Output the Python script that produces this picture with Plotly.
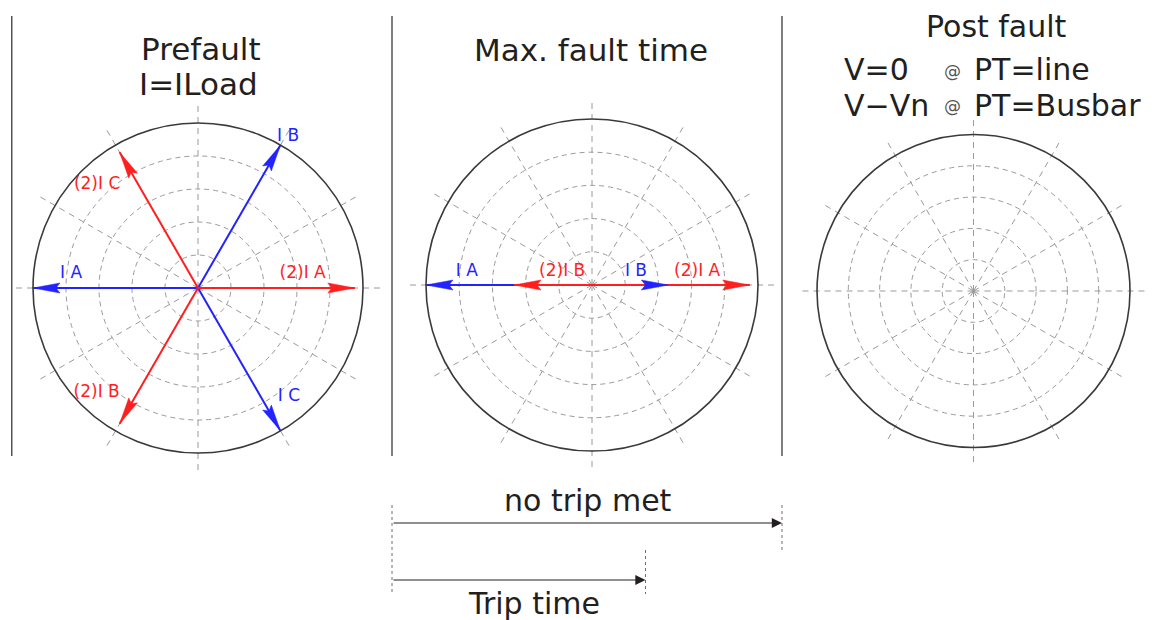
import numpy as np
import plotly.graph_objects as go

W, H = 1167, 620
OFF = 8  # page body margin of the html page

# ------------------------------------------------------------------ data
title_prefault = ["Prefault", "I=ILoad"]
title_fault = "Max. fault time"
title_post = "Post fault"
post_left = ["V=0", "V\u2212Vn"]
post_at = ["@", "@"]
post_right = ["PT=line", "PT=Busbar"]

# prefault phasors (magnitude in ring units, angle in degrees)
pre_labels = ["I A", "I B", "I C", "(2)I A", "(2)I B", "(2)I C"]
pre_mag = [5.0, 5.0, 5.0, 4.75, 4.75, 4.75]
pre_ang = [180, 60, 300, 0, 240, 120]
pre_kind = ["I", "I", "I", "I2", "I2", "I2"]

# max fault time phasors
flt_labels = ["I A", "I B", "(2)I A", "(2)I B"]
flt_mag = [5.0, 2.3, 4.75, 2.35]
flt_ang = [180, 0, 0, 180]
flt_kind = ["I", "I", "I2", "I2"]

ring_values = [1, 2, 3, 4]
outer_ring = 5
spoke_step = 30

# timeline (fault start = 0, no-trip end = 1)
period_bounds = [-0.975, 0.0, 1.0]
trip_time = 0.65
no_trip_end = 1.0
timeline_texts = ["no trip met", "Trip time"]

# ------------------------------------------------------------------ style
FONT = "DejaVu Sans"
TXT = "#231f20"
COL = {"I": "#2323ff", "I2": "#ff1f1f"}
GRID = "#9a9a9a"
panels_px = [(198, 288, 165), (592, 285, 166), (973.5, 291, 156.5)]  # cx, cy, outer radius px
spoke_ext = 5.6
arrow_len_px, arrow_half_px, arrow_notch_px = 27, 5, 4
# label placement (r, theta) per phasor
pre_label_pos = [(3.87, 173.7), (5.33, 59.2), (4.3, 309.9), (3.2, 7.6), (4.42, 226), (4.37, 134.4)]
flt_label_pos = [(3.79, 174), (1.38, 16.5), (3.19, 7), (0.98, 156.6)]

fig = go.Figure()
layout = {}


def fx(px):
    return (px - OFF) / W


def fy(px):
    return 1 - (px - OFF) / H


def domain(cx, cy, R):
    return dict(x=[fx(cx - R), fx(cx + R)], y=[fy(cy + R), fy(cy - R)])


def arrow_poly(mag, ang, ppu):
    t = np.radians(ang)
    u = np.array([np.cos(t), np.sin(t)])
    n = np.array([-np.sin(t), np.cos(t)])
    tip = mag * u
    L, w, d = arrow_len_px / ppu, arrow_half_px / ppu, arrow_notch_px / ppu
    pts = [tip, tip - L * u + w * n, tip - (L - d) * u, tip - L * u - w * n, tip]
    r = [float(np.hypot(*p)) for p in pts]
    th = [float(np.degrees(np.arctan2(p[1], p[0]))) for p in pts]
    return r, th


for i, (cx, cy, R) in enumerate(panels_px):
    low = "polar" if i == 0 else f"polar{2 * i + 1}"
    up = f"polar{2 * i + 2}"
    layout[low] = dict(
        domain=domain(cx, cy, R * spoke_ext / outer_ring),
        bgcolor="rgba(0,0,0,0)",
        radialaxis=dict(range=[0, spoke_ext], showgrid=False, showline=False,
                        showticklabels=False, ticks=""),
        angularaxis=dict(showgrid=True, gridcolor=GRID, gridwidth=1.2, griddash="6px,5px",
                         tickmode="linear", tick0=0, dtick=spoke_step, showline=False,
                         showticklabels=False, ticks=""),
    )
    layout[up] = dict(
        domain=domain(cx, cy, R),
        bgcolor="rgba(0,0,0,0)",
        radialaxis=dict(range=[0, outer_ring], showgrid=True, tickmode="array",
                        tickvals=ring_values, gridcolor=GRID, gridwidth=1.2, griddash="5px,4px",
                        showline=False, showticklabels=False, ticks=""),
        angularaxis=dict(showgrid=False, showline=True, linecolor="#3a3a3a", linewidth=1.6,
                         showticklabels=False, ticks=""),
    )
    fig.add_trace(go.Scatterpolar(r=[0], theta=[0], mode="markers", marker=dict(size=0, opacity=0),
                                  subplot=low, showlegend=False, hoverinfo="skip"))

phasor_sets = [
    ("polar", "polar2", pre_labels, pre_mag, pre_ang, pre_kind, pre_label_pos, panels_px[0]),
    ("polar3", "polar4", flt_labels, flt_mag, flt_ang, flt_kind, flt_label_pos, panels_px[1]),
]
for low, sub, labels, mags, angs, kinds, lpos, (cx, cy, R) in phasor_sets:
    ppu = R / outer_ring
    for kind in ["I", "I2"]:
        for lab, m, a, k in zip(labels, mags, angs, kinds):
            if k != kind:
                continue
            fig.add_trace(go.Scatterpolar(r=[0, m], theta=[a, a], mode="lines",
                                          line=dict(color=COL[k], width=2), subplot=sub,
                                          showlegend=False, hoverinfo="skip", cliponaxis=False))
    for kind in ["I2", "I"]:
        for lab, m, a, k in zip(labels, mags, angs, kinds):
            if k != kind:
                continue
            rr, tt = arrow_poly(m, a, ppu)
            fig.add_trace(go.Scatterpolar(r=rr, theta=tt, mode="lines", fill="toself",
                                          fillcolor=COL[k], line=dict(color=COL[k], width=0.5),
                                          subplot=sub, showlegend=False, hoverinfo="skip",
                                          cliponaxis=False))
    for lab, k, (lr, lt) in zip(labels, kinds, lpos):
        fig.add_trace(go.Scatterpolar(r=[lr], theta=[lt], mode="text", text=[lab],
                                      textfont=dict(family=FONT, size=17, color=COL[k]),
                                      subplot=(low if lr > outer_ring else sub),
                                      showlegend=False, hoverinfo="skip", cliponaxis=False))

fig.add_trace(go.Scatterpolar(r=[0], theta=[0], mode="markers", marker=dict(size=0, opacity=0),
                              subplot="polar6", showlegend=False, hoverinfo="skip"))

# ------------------------------------------------------------------ timeline axes
t_px0, t_px1 = 392 - OFF, 782 - OFF
scale = t_px1 - t_px0
fig.add_trace(go.Scatter(x=[0], y=[0], mode="markers", marker=dict(size=0, opacity=0),
                         showlegend=False, hoverinfo="skip"))
layout["xaxis"] = dict(range=[-t_px0 / scale, (W - t_px0) / scale], domain=[0, 1], visible=False,
                       fixedrange=True)
layout["yaxis"] = dict(range=[0, 1], domain=[0, 1], visible=False, fixedrange=True)

shapes = []
for b in period_bounds:
    shapes.append(dict(type="line", xref="x", yref="y", x0=b, x1=b, y0=fy(456), y1=fy(16),
                       line=dict(color="#555555", width=1.5), layer="below"))
dot = dict(color="#6e6e6e", width=1, dash="dot")
shapes.append(dict(type="line", xref="x", yref="y", x0=0, x1=0, y0=fy(505), y1=fy(595), line=dot))
shapes.append(dict(type="line", xref="x", yref="y", x0=no_trip_end, x1=no_trip_end, y0=fy(505),
                   y1=fy(550), line=dot))
shapes.append(dict(type="line", xref="x", yref="y", x0=trip_time, x1=trip_time, y0=fy(550),
                   y1=fy(594), line=dot))

ann = []
for end, ypx in [(no_trip_end, 523), (trip_time, 580)]:
    ann.append(dict(x=end, y=fy(ypx), ax=0, ay=fy(ypx), xref="x", yref="y", axref="x", ayref="y",
                    text="", showarrow=True, arrowhead=2, arrowsize=1.7, arrowwidth=1.2,
                    arrowcolor=TXT, standoff=0))


def txt(s, xpx, ypx, size=30, anchor="center", color=TXT):
    return dict(text=s, x=fx(xpx), y=fy(ypx), xref="paper", yref="paper", showarrow=False,
                xanchor=anchor, yanchor="middle", borderpad=0,
                font=dict(family=FONT, size=size, color=color))


ann.append(txt(timeline_texts[0], 588, 500))
ann.append(txt(timeline_texts[1], 534, 603))
ann.append(txt(title_prefault[0], 201, 49, size=31))
ann.append(txt(title_prefault[1], 198, 84, size=31))
ann.append(txt(title_fault, 591, 50, size=31))
ann.append(txt(title_post, 996, 26, size=30))
for j, ypx in enumerate([70, 105]):
    ann.append(txt(post_left[j], 843, ypx, anchor="left"))
    ann.append(txt(post_at[j], 952, ypx + 1, size=17, color="#555555"))
    ann.append(txt(post_right[j], 973, ypx, anchor="left"))

fig.update_layout(**layout)
fig.update_layout(width=W, height=H, margin=dict(l=0, r=0, t=0, b=0), paper_bgcolor="white",
                  plot_bgcolor="rgba(0,0,0,0)", shapes=shapes, annotations=ann, showlegend=False)
fig.write_html("out.html")
